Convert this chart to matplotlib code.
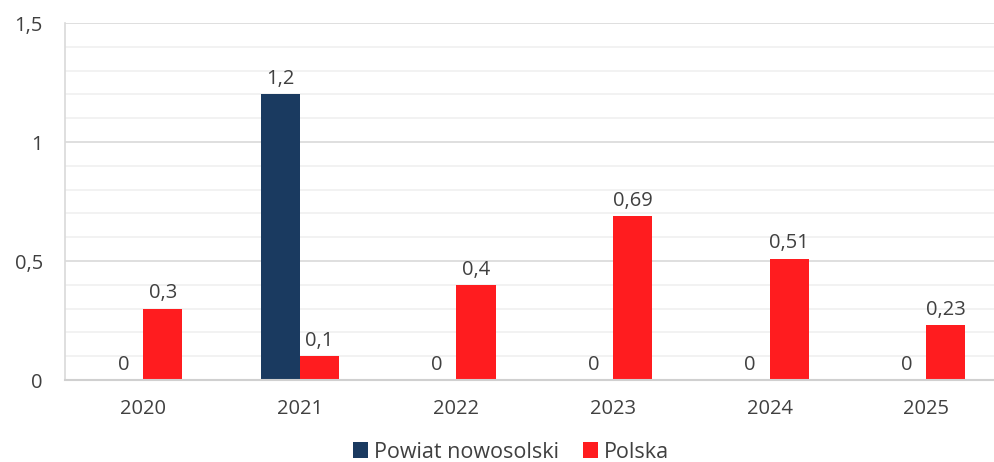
import numpy as np
import matplotlib.pyplot as plt
from matplotlib.ticker import MultipleLocator

years = ["2020", "2021", "2022", "2023", "2024", "2025"]
powiat = [0, 1.2, 0, 0, 0, 0]
polska = [0.3, 0.1, 0.4, 0.69, 0.51, 0.23]

navy = "#1a3a60"
red = "#ff1c1f"
txt = "#404040"

plt.rcParams["font.family"] = ["Open Sans", "DejaVu Sans"]

fig = plt.figure(figsize=(9.95, 4.62), dpi=100)
ax = fig.add_axes([65 / 995, 82 / 462, 930 / 995, 357 / 462])

x = np.arange(len(years))
w = 0.25
b1 = ax.bar(x - w / 2, powiat, w, color=navy, label="Powiat nowosolski", zorder=3)
b2 = ax.bar(x + w / 2, polska, w, color=red, label="Polska", zorder=3)

def fmt(v):
    return ("%g" % v).replace(".", ",")

for bars, vals in ((b1, powiat), (b2, polska)):
    for r, v in zip(bars, vals):
        ax.text(r.get_x() + r.get_width() / 2, v + 0.022, fmt(v),
                ha="center", va="bottom", fontsize=14.5, color=txt)

ax.set_xlim(-0.5, -0.5 + 930 / 156.6)
ax.set_ylim(0, 1.5)
ax.yaxis.set_minor_locator(MultipleLocator(0.1))
ax.set_yticks([0, 0.5, 1, 1.5])
ax.set_yticklabels(["0", "0,5", "1", "1,5"])
ax.set_xticks(x)
ax.set_xticklabels(years)
ax.grid(axis="y", which="major", color="#d9d9d9", lw=1.2, zorder=0)
ax.grid(axis="y", which="minor", color="#f0f0f0", lw=1.2, zorder=0)
ax.tick_params(axis="both", which="both", length=0, labelsize=14.5, colors=txt)
ax.tick_params(axis="y", pad=16)
ax.tick_params(axis="x", pad=14)
for s in ("top", "right"):
    ax.spines[s].set_visible(False)
ax.spines["left"].set_color("#d9d9d9")
ax.spines["left"].set_linewidth(1.2)
ax.spines["bottom"].set_color("#d0d0d0")
ax.spines["bottom"].set_linewidth(1.5)
ax.spines["bottom"].set_zorder(4)

fig.legend(loc="center", bbox_to_anchor=(511 / 995, 1 - 452 / 462), ncol=2,
           frameon=False, fontsize=15.5, handlelength=0.7, handleheight=0.7,
           handletextpad=0.3, columnspacing=1.1, labelcolor=txt)

fig.savefig("out.png", dpi=100)
